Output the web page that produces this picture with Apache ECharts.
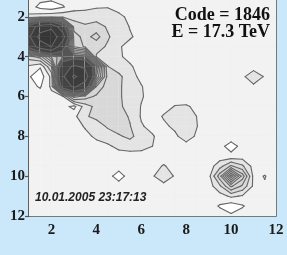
<!DOCTYPE html>
<html>
<head>
<meta charset="UTF-8">
<title>Code = 1846</title>
<script src="https://cdn.jsdelivr.net/npm/echarts@6.0.0/dist/echarts.min.js"></script>
<style>
  html, body { margin: 0; padding: 0; background: #cbe8fb; }
  #chart { width: 287px; height: 255px; }
</style>
</head>
<body>
<div id="chart"></div>
<script>
// grid nodes of the density map (x across, y down)
const xNodes = [1, 1.5, 2, 2.5, 3, 3.5, 4, 4.5, 5, 5.5, 6, 6.5, 7, 7.5, 8, 8.5, 9, 9.5, 10, 10.5, 11, 11.5, 12];
const yNodes = [1, 1.5, 2, 2.5, 3, 3.5, 4, 4.5, 5, 5.5, 6, 6.5, 7, 7.5, 8, 8.5, 9, 9.5, 10, 10.5, 11, 11.5, 12];

// contour levels
const levels = [1, 2, 3, 4, 5, 6, 7, 8, 9, 10, 13, 19, 25];

// density, one row per yNode
const density = [
  [1.5,1.4,1.4,1.5,1.5,1.5,1.5,1.5,1.5,1.5,1.5,1.5,1.5,1.5,1.5,1.5,1.5,1.5,1.5,1.5,1.5,1.5,1.5],
  [1.5,0.7,0.4,0.9,1.6,1.8,1.9,1.95,1.7,1.5,1.5,1.5,1.5,1.5,1.5,1.5,1.5,1.5,1.5,1.5,1.5,1.5,1.5],
  [2.2,2.6,2.8,2.8,2.6,2.4,2.6,2.5,2.2,1.8,1.6,1.5,1.5,1.5,1.5,1.5,1.5,1.5,1.5,1.5,1.5,1.5,1.5],
  [15,22,24,15,3.6,3.2,3.4,2.9,2.5,1.95,1.7,1.5,1.5,1.5,1.5,1.5,1.5,1.5,1.5,1.5,1.5,1.5,1.5],
  [18,27,28,22,4.5,3.6,4.4,3.1,2.6,2.1,1.7,1.5,1.5,1.5,1.5,1.5,1.5,1.5,1.5,1.5,1.5,1.5,1.5],
  [14,22,25,15,5,3.8,3.3,2.9,2.1,1.7,1.5,1.5,1.5,1.5,1.5,1.5,1.5,1.5,1.5,1.5,1.5,1.5,1.5],
  [3.5,4.5,8,10,11,10.5,2.9,2.5,2.1,1.8,1.6,1.5,1.5,1.5,1.5,1.5,1.5,1.5,1.5,1.5,1.5,1.5,1.5],
  [1.8,1.1,4,16,20,18,10.5,3.05,2.4,2.1,1.7,1.5,1.5,1.5,1.5,1.5,1.5,1.5,1.5,1.5,1.6,1.5,1.5],
  [1.1,0.4,2.3,18,26,22,9,3.6,3.3,2.3,1.8,1.5,1.5,1.5,1.5,1.5,1.5,1.5,1.5,1.8,2.6,1.9,1.5],
  [1.3,0.9,2.2,15,20,16,5,3.4,3.2,2.4,2.05,1.6,1.5,1.5,1.5,1.5,1.5,1.5,1.5,1.5,1.8,1.5,1.5],
  [1.5,1.5,1.7,1.8,5.5,4.5,3.8,3.4,3.1,2.7,2.1,1.6,1.5,1.5,1.5,1.5,1.5,1.5,1.5,1.5,1.5,1.5,1.5],
  [1.5,1.5,1.5,1.4,0.7,2.5,3.3,3.4,3.15,2.7,1.95,1.5,1.6,2.05,2.1,1.8,1.5,1.5,1.5,1.5,1.5,1.5,1.5],
  [1.5,1.5,1.5,1.5,1.7,2.9,3.2,3.3,3.4,2.9,1.9,1.5,2.1,2.6,2.6,1.95,1.5,1.5,1.5,1.5,1.5,1.5,1.5],
  [1.5,1.5,1.5,1.5,1.5,2.1,2.6,3.1,3.4,3.05,2.1,1.7,1.8,2.2,2.6,2.0,1.5,1.5,1.5,1.5,1.5,1.5,1.5],
  [1.5,1.5,1.5,1.5,1.5,1.7,2.2,2.6,2.9,3.2,2.6,2.1,1.5,1.8,2.5,1.8,1.5,1.5,1.5,1.5,1.5,1.5,1.5],
  [1.5,1.5,1.5,1.5,1.5,1.5,1.6,1.8,2.3,2.5,2.4,2.0,1.5,1.5,1.6,1.5,1.5,1.3,0.6,1.3,1.5,1.5,1.5],
  [1.5,1.5,1.5,1.5,1.5,1.5,1.5,1.5,1.5,1.5,1.5,1.5,1.5,1.5,1.5,1.5,1.5,1.5,1.3,1.5,1.5,1.5,1.5],
  [1.5,1.5,1.5,1.5,1.5,1.5,1.5,1.5,1.5,1.5,1.5,1.6,2.1,1.6,1.5,1.5,1.5,2.6,4.2,3.2,1.6,1.5,1.5],
  [1.5,1.5,1.5,1.5,1.5,1.5,1.5,1.4,0.5,1.5,1.5,1.9,2.6,1.9,1.5,1.5,1.6,4.6,9.6,5.6,1.7,2.05,1.5],
  [1.5,1.5,1.5,1.5,1.5,1.5,1.5,1.5,1.5,1.5,1.5,1.5,1.7,1.5,1.5,1.5,1.5,2.8,5.2,3.8,1.8,1.9,1.5],
  [1.5,1.5,1.5,1.5,1.5,1.5,1.5,1.5,1.5,1.5,1.5,1.5,1.5,1.5,1.5,1.5,1.5,1.6,2.2,1.9,1.5,1.5,1.5],
  [1.5,1.5,1.5,1.5,1.5,1.5,1.5,1.5,1.5,1.5,1.5,1.5,1.5,1.5,1.5,1.5,1.5,0.9,0.4,0.9,1.5,1.5,1.5],
  [1.5,1.5,1.5,1.5,1.5,1.5,1.5,1.5,1.5,1.5,1.5,1.5,1.5,1.5,1.5,1.5,1.5,1.5,1.2,1.5,1.5,1.5,1.5]
];

const xTickLabels = ['2', '4', '6', '8', '10', '12'];

// fill colour for the region above each level
const bandColors = ['#f2f2f2', '#e4e4e4', '#d8d8d8', '#d5d5d5', '#d2d2d2', '#cecece', '#cacaca', '#c4c4c4',
  '#b8b8b8', '#555555', '#444444', '#3c3c3c', '#363636'];
const lineColor = '#666666';

const cells = [];
for (let r = 0; r < yNodes.length - 1; r++) {
  for (let c = 0; c < xNodes.length - 1; c++) {
    cells.push([xNodes[c], yNodes[r], c, r]);
  }
}

function cellCorners(c, r) {
  return [
    [xNodes[c], yNodes[r], density[r][c]],
    [xNodes[c + 1], yNodes[r], density[r][c + 1]],
    [xNodes[c + 1], yNodes[r + 1], density[r + 1][c + 1]],
    [xNodes[c], yNodes[r + 1], density[r + 1][c]]
  ];
}

// part of a cell that is >= L (marching squares, linear on edges)
function clipCell(cs, L) {
  const pts = [];
  for (let i = 0; i < 4; i++) {
    const a = cs[i], b = cs[(i + 1) % 4];
    const ina = a[2] >= L, inb = b[2] >= L;
    if (ina) pts.push({ p: [a[0], a[1]], cross: false });
    if (ina !== inb) {
      const t = (L - a[2]) / (b[2] - a[2]);
      pts.push({ p: [a[0] + t * (b[0] - a[0]), a[1] + t * (b[1] - a[1])], cross: true });
    }
  }
  return pts;
}

function renderFill(params, api) {
  const cs = cellCorners(api.value(2), api.value(3));
  const children = [];
  levels.forEach((L, k) => {
    const pts = clipCell(cs, L);
    if (pts.length < 3) return;
    children.push({
      type: 'polygon',
      shape: { points: pts.map(q => api.coord(q.p)) },
      style: { fill: bandColors[k], stroke: bandColors[k], lineWidth: 0.6 }
    });
  });
  return { type: 'group', children: children };
}

function renderLines(params, api) {
  const cs = cellCorners(api.value(2), api.value(3));
  const children = [];
  levels.forEach(L => {
    const pts = clipCell(cs, L);
    for (let i = 0; i < pts.length; i++) {
      const a = pts[i], b = pts[(i + 1) % pts.length];
      if (a.cross && b.cross) {
        const p = api.coord(a.p), q = api.coord(b.p);
        children.push({
          type: 'line',
          shape: { x1: p[0], y1: p[1], x2: q[0], y2: q[1] },
          style: { stroke: lineColor, lineWidth: 1.1, lineCap: 'round' }
        });
      }
    }
  });
  return { type: 'group', children: children };
}

const labelFont = { fontFamily: 'Liberation Serif', fontWeight: 'bold', fontSize: 15, color: '#1a1a1a' };

const chart = echarts.init(document.getElementById('chart'));
chart.setOption({
  animation: false,
  grid: {
    left: 29, right: 11, top: -23, bottom: 39,
    outerBoundsMode: 'none', containLabel: false,
    show: true, backgroundColor: '#ffffff', borderColor: '#555', borderWidth: 1.5
  },
  xAxis: {
    type: 'value', min: 1, max: 12, interval: 1,
    axisLine: { show: true, lineStyle: { color: '#555', width: 1.5 } },
    axisTick: { show: true, length: 4, lineStyle: { color: '#555', width: 1.2 } },
    axisLabel: Object.assign({
      margin: 7,
      formatter: v => xTickLabels.indexOf(String(v)) >= 0 ? String(v) : ''
    }, labelFont),
    splitLine: { show: false }
  },
  yAxis: {
    type: 'value', inverse: true, min: 0, max: 12, interval: 2,
    axisLine: { show: true, lineStyle: { color: '#555', width: 1.5 } },
    axisTick: { show: true, length: 4, lineStyle: { color: '#555', width: 1.2 } },
    axisLabel: Object.assign({ margin: 4 }, labelFont),
    splitLine: { show: false }
  },
  series: [
    {
      type: 'custom', clip: true, silent: true, z: 1,
      encode: { x: 0, y: 1 },
      data: cells,
      renderItem: renderFill
    },
    {
      type: 'custom', clip: true, silent: true, z: 2,
      encode: { x: 0, y: 1 },
      data: cells,
      renderItem: renderLines
    }
  ],
  graphic: [
    { type: 'text', x: 270, y: 15, z: 100,
      style: { text: 'Code = 1846', align: 'right', verticalAlign: 'middle', font: 'bold 18px "Liberation Serif"', fill: '#111' } },
    { type: 'text', x: 270, y: 32, z: 100,
      style: { text: 'E = 17.3 TeV', align: 'right', verticalAlign: 'middle', font: 'bold 18px "Liberation Serif"', fill: '#111' } },
    { type: 'text', x: 35, y: 198, z: 100,
      style: { text: '10.01.2005 23:17:13', align: 'left', verticalAlign: 'middle', font: 'italic bold 12px "Liberation Sans"', fill: '#222' } }
  ]
});
</script>
</body>
</html>
